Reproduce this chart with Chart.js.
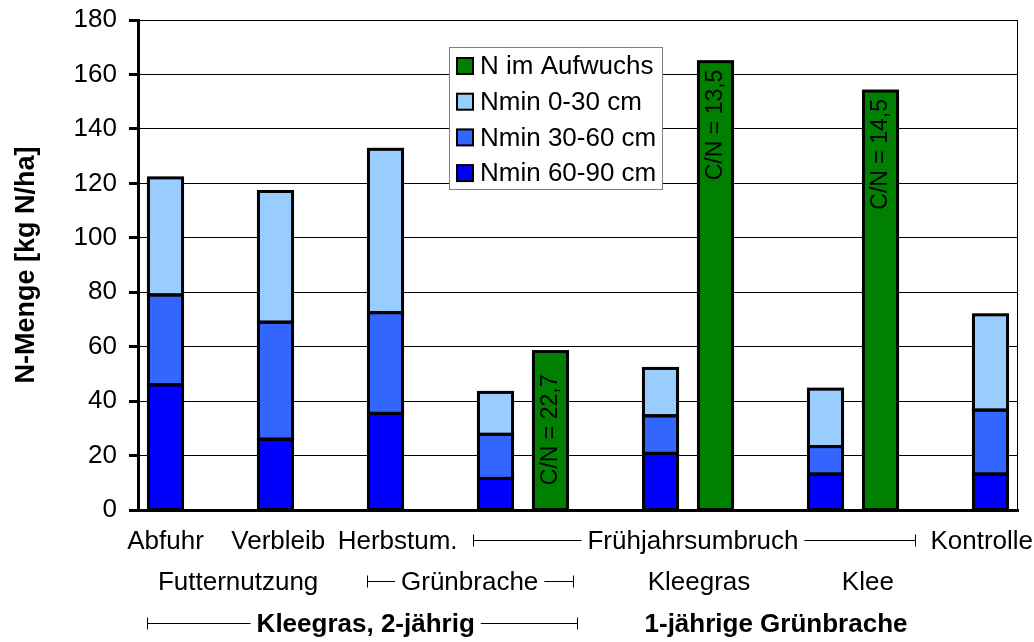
<!DOCTYPE html>
<html>
<head>
<meta charset="utf-8">
<script src="https://cdn.jsdelivr.net/npm/chart.js@4/dist/chart.umd.min.js"></script>
<style>
  body { margin: 0; background: #fff; }
</style>
</head>
<body>
<canvas id="nchart"></canvas>
<script>
// 16 slots: stacked Nmin bar + N im Aufwuchs bar next to it (empty slots = gaps)
const slots = ["Abfuhr", "", "Verbleib", "", "Herbstum.", "", "GB Nmin", "GB Aufw",
  "", "KG Nmin", "KG Aufw", "", "Klee Nmin", "Klee Aufw", "", "Kontrolle"];

const nmin6090 = [46, null, 26, null, 35.5, null, 11.6, null, null, 20.8, null, null, 13.2, null, null, 13.2];
const nmin3060 = [33, null, 43, null, 37, null, 16.2, null, null, 13.8, null, null, 10.1, null, null, 23.5];
const nmin030 = [43, null, 48, null, 60, null, 15.4, null, null, 17.4, null, null, 21.1, null, null, 35];
const nAufwuchs = [null, null, null, null, null, null, null, 58.2, null, null, 164.7, null, null, 153.9, null, null];
const cnLabels = ["", "", "", "", "", "", "", "C/N = 22,7", "", "", "C/N = 13,5", "", "", "C/N = 14,5", "", ""];

const yTicks = [0, 20, 40, 60, 80, 100, 120, 140, 160, 180];

// Beschriftung unter der x-Achse, drei Zeilen
const row1 = ["Abfuhr", "Verbleib", "Herbstum.", "Frühjahrsumbruch", "Kontrolle"];
const row2 = ["Futternutzung", "Grünbrache", "Kleegras", "Klee"];
const row3 = ["Kleegras, 2-jährig", "1-jährige Grünbrache"];

const FONT = "'Liberation Sans', Arial, sans-serif";

const canvas = document.querySelector("#nchart");
canvas.width = 1034;
canvas.height = 642;
const ctx = canvas.getContext("2d");

// wo die Texte sitzen (in Slot-Einheiten), klammer = von/bis
const rowLayout = [
  { texts: row1, base: 549, bold: false, pos: [{ at: 0 }, { at: 2.05 }, { at: 4.22 }, { at: 9.59, from: 5.59, to: 13.63 }, { at: 14.84 }] },
  { texts: row2, base: 590, bold: false, pos: [{ at: 1.32 }, { at: 5.53, from: 3.66, to: 7.41 }, { at: 9.7 }, { at: 12.77 }] },
  { texts: row3, base: 632, bold: true, pos: [{ at: 3.64, from: -0.34, to: 7.48 }, { at: 11.1 }] },
];
const cnGap = { 7: 23, 10: 8, 13: 8 };

const extras = {
  id: "extras",
  beforeDatasetsDraw(chart) {
    const a = chart.chartArea;
    const c = chart.ctx;
    c.save();
    c.strokeStyle = "#000";
    c.lineWidth = 1;
    c.beginPath();
    c.moveTo(a.right - 0.5, a.top);
    c.lineTo(a.right - 0.5, a.bottom);
    c.stroke();
    c.restore();
  },
  afterDatasetsDraw(chart) {
    // schwarze Umrandung wie in Excel (zentriert auf der Kante)
    const c = chart.ctx;
    c.save();
    c.strokeStyle = "#000";
    c.lineWidth = 3;
    c.lineJoin = "miter";
    chart.data.datasets.forEach((ds, di) => {
      const meta = chart.getDatasetMeta(di);
      meta.data.forEach((bar, j) => {
        if (ds.data[j] == null) return;
        const p = bar.getProps(["x", "y", "base", "width"], true);
        c.strokeRect(p.x - p.width / 2, p.y, p.width, p.base - p.y);
      });
    });
    c.restore();
  },
  afterDraw(chart) {
    const c = chart.ctx;
    const x = chart.scales.x;
    const a = chart.chartArea;
    c.save();
    c.fillStyle = "#000";

    // C/N Werte in den grünen Balken
    const meta = chart.getDatasetMeta(3);
    c.font = "23px " + FONT;
    cnLabels.forEach((lbl, j) => {
      if (!lbl) return;
      const bar = meta.data[j];
      c.save();
      c.translate(bar.x, bar.y + (cnGap[j] || 8));
      c.rotate(-Math.PI / 2);
      c.textAlign = "right";
      c.textBaseline = "middle";
      c.fillText(lbl, 0, 0);
      c.restore();
    });

    // x-Achsen Texte mit Klammern
    c.textBaseline = "alphabetic";
    c.textAlign = "center";
    c.strokeStyle = "#000";
    c.lineWidth = 1;
    rowLayout.forEach((row) => {
      c.font = (row.bold ? "bold " : "") + "26px " + FONT;
      row.texts.forEach((t, i) => {
        const p = row.pos[i];
        const cx = x.getPixelForValue(p.at);
        c.fillText(t, cx, row.base);
        if (p.from !== undefined) {
          const w = c.measureText(t).width;
          const ly = Math.round(row.base - 9) + 0.5;
          const x1 = Math.round(x.getPixelForValue(p.from)) + 0.5;
          const x2 = Math.round(x.getPixelForValue(p.to)) + 0.5;
          c.beginPath();
          c.moveTo(x1, ly - 6); c.lineTo(x1, ly + 6);
          c.moveTo(x1, ly); c.lineTo(cx - w / 2 - 6, ly);
          c.moveTo(cx + w / 2 + 6, ly); c.lineTo(x2, ly);
          c.moveTo(x2, ly - 6); c.lineTo(x2, ly + 6);
          c.stroke();
        }
      });
    });

    // Legende
    const lx = a.left + 311, ly = a.top + 27;
    c.fillStyle = "#fff";
    c.fillRect(lx, ly, 213, 142);
    c.strokeStyle = "#808080";
    c.strokeRect(lx + 0.5, ly + 0.5, 213, 142);
    c.font = "26px " + FONT;
    c.textAlign = "left";
    c.textBaseline = "middle";
    const order = [3, 2, 1, 0];
    order.forEach((di, k) => {
      const ds = chart.data.datasets[di];
      const yy = ly + 19 + k * 35.7;
      c.fillStyle = ds.backgroundColor;
      c.fillRect(lx + 8, yy - 8, 16, 16);
      c.strokeStyle = "#000";
      c.lineWidth = 2;
      c.strokeRect(lx + 8, yy - 8, 16, 16);
      c.fillStyle = "#000";
      c.fillText(ds.label, lx + 31, yy + 1);
    });
    c.restore();
  },
};

const barStyle = {
  borderWidth: 0,
  inflateAmount: 0,
  barPercentage: 0.62,
  categoryPercentage: 1,
};

new Chart(ctx, {
  type: "bar",
  data: {
    labels: slots,
    datasets: [
      { label: "Nmin 60-90 cm", data: nmin6090, backgroundColor: "#0000FF", ...barStyle },
      { label: "Nmin 30-60 cm", data: nmin3060, backgroundColor: "#3366FF", ...barStyle },
      { label: "Nmin 0-30 cm", data: nmin030, backgroundColor: "#99CCFF", ...barStyle },
      { label: "N im Aufwuchs", data: nAufwuchs, backgroundColor: "#008000", ...barStyle },
    ],
  },
  options: {
    responsive: false,
    animation: false,
    layout: { padding: { top: 20, right: 16, left: 0, bottom: 0 } },
    plugins: { legend: { display: false }, tooltip: { enabled: false } },
    scales: {
      x: {
        stacked: true,
        grid: { display: false },
        border: { display: true, width: 3, color: "#000" },
        ticks: { display: false },
        afterFit: (s) => { s.height = 132; },
      },
      y: {
        stacked: true,
        min: 0,
        max: 180,
        afterBuildTicks: (s) => { s.ticks = yTicks.map((v) => ({ value: v })); },
        ticks: { color: "#000", padding: 12, font: { size: 26, family: FONT } },
        grid: { color: "#000", lineWidth: 1, tickLength: 9, tickWidth: 3, tickColor: "#000" },
        border: { width: 3, color: "#000" },
        title: {
          display: true,
          text: "N-Menge [kg N/ha]",
          color: "#000",
          font: { size: 27, weight: "bold", family: FONT },
          padding: { top: 10, bottom: 0 },
        },
        afterFit: (s) => {
          s.width = 138;
          s.paddingTop = 0;
          s.paddingBottom = 0;
        },
      },
    },
  },
  plugins: [extras],
});
</script>
</body>
</html>
